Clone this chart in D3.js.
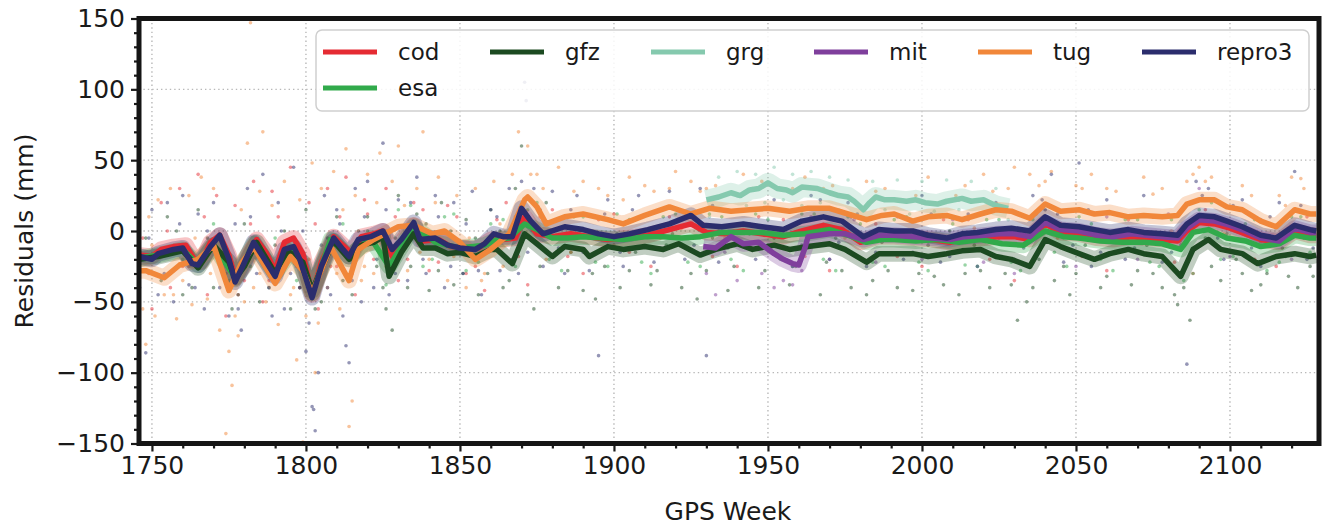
<!DOCTYPE html>
<html>
<head>
<meta charset="utf-8">
<script src="https://cdn.jsdelivr.net/npm/d3@7"></script>
<style>
  body { margin: 0; background: #fff; }
  svg text { font-family: "DejaVu Sans", sans-serif; fill: #1a1a1a; }
</style>
</head>
<body>
<svg id="chart" width="1326" height="528"></svg>
<script>
"use strict";

const width = 1326
const height = 528
const margin = { top: 18.5, right: 7, bottom: 84.5, left: 139 }

const centers = ["cod", "esa", "gfz", "grg", "mit", "tug", "repro3"]
const legendOrder = ["cod", "gfz", "grg", "mit", "tug", "repro3", "esa"]
const colors = new Map()
    .set("cod", "#e52b33")
    .set("esa", "#31aa4b")
    .set("gfz", "#1c4a21")
    .set("grg", "#85c9ae")
    .set("mit", "#7f3f9c")
    .set("tug", "#f1873a")
    .set("repro3", "#2b2d6d")

const xTicks = [1750, 1800, 1850, 1900, 1950, 2000, 2050, 2100]
const yTicks = [-150, -100, -50, 0, 50, 100, 150]

// smoothed residuals [GPS week, mm]
const codLine = [[1746,-17],[1750,-18],[1753,-13],[1757,-11],[1761,-10],[1764,-21],[1766,-22],[1769,-8],[1772,-3],[1775,-17],[1777,-33],[1780,-24],[1784,-6],[1787,-15],[1790,-28],[1793,-8],[1796,-5],[1799,-16],[1802,-45],[1805,-22],[1809,-4],[1812,-10],[1815,-16],[1818,-4],[1822,-2],[1825,0],[1828,-18],[1831,-8],[1835,4],[1838,-7],[1843,-6],[1847,-11],[1852,-12],[1856,-12],[1860,-6],[1864,-6],[1868,-5],[1871,10],[1875,-2],[1880,-4],[1886,-2],[1892,-4],[1898,-6],[1904,-5],[1911,-3],[1918,1],[1925,5],[1930,-1],[1936,-2],[1942,0],[1948,-2],[1955,-4],[1961,0],[1968,4],[1974,1],[1980,-8],[1986,-4],[1991,-4],[1997,-5],[2003,-6],[2009,-8],[2014,-6],[2020,-5],[2025,-4],[2030,-4],[2035,-6],[2040,5],[2045,-1],[2051,-2],[2057,-5],[2062,-6],[2068,-4],[2073,-5],[2078,-6],[2083,-7],[2086,0],[2090,6],[2095,5],[2100,2],[2105,-2],[2110,-6],[2116,-8],[2121,0],[2126,-3],[2128,-3]]
const esaLine = [[1746,-19],[1752,-17],[1760,-13],[1765,-24],[1770,-10],[1777,-33],[1783,-9],[1790,-30],[1796,-12],[1802,-44],[1808,-6],[1814,-18],[1821,-5],[1827,-25],[1835,3],[1842,-8],[1850,-12],[1858,-10],[1862,-6],[1866,-5],[1871,5],[1875,1],[1880,-5],[1885,-5],[1890,-4],[1896,-5],[1903,-6],[1910,-4],[1916,-4],[1922,-5],[1928,-4],[1935,-1],[1942,-1],[1948,-1],[1955,-3],[1962,-2],[1970,1],[1976,-3],[1982,-8],[1987,-6],[1991,-6],[1998,-7],[2005,-6],[2012,-8],[2019,-6],[2026,-9],[2033,-10],[2040,0],[2046,-4],[2051,-5],[2058,-7],[2065,-8],[2072,-8],[2078,-9],[2084,-13],[2088,-1],[2093,1],[2099,-5],[2105,-7],[2110,-11],[2116,-9],[2121,-3],[2126,-5],[2128,-5]]
const gfzLine = [[1746,-20],[1752,-18],[1760,-14],[1765,-26],[1770,-10],[1775,-22],[1777,-34],[1780,-25],[1784,-8],[1790,-30],[1794,-14],[1799,-22],[1802,-42],[1806,-22],[1809,-7],[1814,-20],[1818,-10],[1822,-8],[1825,-4],[1827,-32],[1831,-15],[1835,-2],[1838,-12],[1842,-12],[1846,-16],[1850,-15],[1855,-18],[1860,-13],[1862,-13],[1867,-23],[1871,-2],[1875,-9],[1880,-18],[1884,-11],[1890,-13],[1892,-18],[1898,-11],[1903,-13],[1910,-11],[1916,-13],[1921,-9],[1928,-17],[1933,-13],[1940,-9],[1945,-13],[1952,-10],[1957,-13],[1963,-11],[1970,-9],[1975,-13],[1982,-22],[1986,-16],[1991,-16],[1997,-16],[2002,-18],[2008,-16],[2013,-14],[2019,-13],[2024,-18],[2029,-20],[2035,-25],[2040,-6],[2045,-11],[2051,-16],[2056,-20],[2061,-16],[2067,-13],[2072,-16],[2078,-18],[2084,-32],[2088,-13],[2093,-6],[2097,-13],[2104,-16],[2109,-23],[2115,-18],[2121,-16],[2126,-18],[2128,-17]]
const grgLine = [[1930,22],[1934,24],[1938,27],[1941,25],[1944,29],[1947,30],[1950,34],[1953,30],[1956,29],[1958,27],[1961,31],[1966,30],[1970,27],[1973,25],[1976,24],[1978,21],[1981,15],[1983,20],[1985,24],[1988,22],[1991,22],[1995,21],[1998,22],[2001,20],[2005,19],[2008,21],[2013,23],[2016,21],[2020,22],[2022,20],[2024,18],[2028,16]]
const mitLine = [[1929,-11],[1933,-12],[1938,-4],[1942,-9],[1947,-8],[1952,-16],[1955,-20],[1958,-23],[1960,-24],[1962,-12],[1963,-4],[1970,-2],[1975,-2],[1981,-6],[1986,-3],[1991,-3],[1997,-4],[2003,-5],[2009,-6],[2014,-4],[2020,-3],[2025,-2],[2030,-2],[2035,-4],[2040,6],[2045,1],[2051,0],[2057,-3],[2062,-4],[2068,-2],[2073,-3],[2078,-4],[2083,-5],[2086,2],[2090,8],[2095,7],[2100,4],[2105,0],[2110,-5],[2116,-7],[2121,2],[2126,-1],[2128,-1]]
const tugLine = [[1746,-28],[1748,-28],[1754,-33],[1759,-24],[1765,-20],[1770,-10],[1775,-42],[1779,-23],[1783,-11],[1790,-37],[1795,-18],[1799,-28],[1802,-44],[1808,-11],[1814,-35],[1817,-13],[1822,-6],[1830,3],[1835,4],[1841,-2],[1845,0],[1850,-8],[1855,-20],[1860,-13],[1866,-2],[1871,22],[1872,24],[1875,17],[1878,5],[1884,10],[1890,12],[1898,8],[1903,5],[1910,11],[1918,17],[1925,12],[1931,16],[1938,14],[1944,15],[1950,16],[1957,14],[1963,16],[1970,16],[1976,12],[1982,8],[1987,11],[1991,12],[1997,7],[2002,10],[2008,11],[2013,8],[2019,12],[2024,15],[2029,14],[2035,9],[2040,19],[2045,14],[2051,15],[2056,12],[2061,13],[2067,10],[2072,11],[2078,10],[2083,11],[2086,19],[2090,22],[2095,22],[2099,17],[2104,15],[2110,7],[2115,3],[2121,15],[2126,12],[2128,12]]
const repro3Line = [[1746,-18],[1750,-20],[1752,-16],[1757,-13],[1760,-12],[1763,-23],[1765,-24],[1769,-11],[1772,-3],[1775,-20],[1777,-36],[1779,-27],[1783,-8],[1786,-18],[1790,-32],[1793,-13],[1796,-11],[1798,-20],[1802,-47],[1805,-25],[1809,-5],[1812,-13],[1814,-18],[1817,-6],[1821,-4],[1825,0],[1828,-13],[1831,-6],[1835,6],[1837,-6],[1842,-5],[1846,-10],[1850,-12],[1855,-13],[1858,-9],[1861,-2],[1864,-4],[1867,-4],[1870,16],[1873,7],[1877,-2],[1884,3],[1890,1],[1895,-2],[1900,-4],[1905,-2],[1911,1],[1918,5],[1925,11],[1929,4],[1935,3],[1942,5],[1948,3],[1955,1],[1961,7],[1968,10],[1974,7],[1981,-4],[1986,1],[1991,0],[1997,0],[2002,-3],[2008,-5],[2013,-2],[2018,-1],[2024,1],[2029,2],[2035,0],[2040,10],[2045,4],[2051,3],[2056,1],[2061,-1],[2067,1],[2072,-1],[2078,-2],[2083,-3],[2086,5],[2090,11],[2095,10],[2099,7],[2104,3],[2110,-3],[2115,-5],[2121,4],[2126,1],[2128,0]]

// individual daily residuals
const codDots = [[1747,-5],[1750,-55],[1753,20],[1756,-40],[1759,30],[1762,-25],[1765,40],[1768,-45],[1771,25],[1774,-60],[1777,18],[1780,-35],[1783,35],[1786,-50],[1789,28],[1792,-30],[1795,45],[1798,-40],[1801,20],[1804,-55],[1807,30],[1810,-25],[1813,38],[1816,-45],[1819,22],[1822,-20],[1826,30],[1830,-35],[1835,20],[1840,-28],[1846,18],[1852,-30],[1858,-42],[1865,20],[1872,-38],[1880,15],[1890,-30],[1900,12],[1912,-25],[1925,10],[1940,-25],[1955,8],[1970,-28],[1985,5],[2000,-25],[2015,8],[2030,-35],[2045,5],[2060,-28],[2075,10],[2088,-30],[2100,5],[2115,-25],[2125,10],
    [1749,-30],[1755,0],[1760,-25],[1767,10],[1773,-20],[1778,-45],[1782,5],[1788,-35],[1791,10],[1797,-25],[1800,-35],[1803,5],[1808,-25],[1811,10],[1815,-30],[1820,12],[1824,-15],[1829,10],[1833,-20],[1838,15],[1843,-22],[1849,10],[1855,-25],[1862,8],[1869,-18],[1876,10],[1885,-18],[1895,8],[1905,-15],[1918,10],[1932,-18],[1947,10],[1962,-18],[1977,10],[1992,-18],[2007,8],[2022,-20],[2037,12],[2052,-18],[2067,8],[2082,-22],[2092,15],[2108,-20],[2120,12]]
const esaDots = [[1760,-20],[1775,-35],[1790,-5],[1805,-30],[1820,0],[1830,15],[1838,-25],[1845,10],[1852,-28],[1860,5],[1868,-25],[1875,20],[1883,-28],[1890,10],[1898,-25],[1905,8],[1912,-30],[1920,12],[1928,-25],[1935,10],[1942,-28],[1950,8],[1958,-25],[1965,12],[1972,-28],[1980,5],[1988,-25],[1995,10],[2002,-28],[2010,5],[2018,-25],[2025,8],[2032,-28],[2040,15],[2047,-25],[2055,5],[2062,-28],[2070,8],[2077,-25],[2085,-35],[2090,15],[2097,-20],[2105,5],[2112,-28],[2120,10],[2126,-15],
    [1770,5],[1782,-25],[1797,-35],[1812,5],[1826,-38],[1834,18],[1841,-20],[1848,12],[1856,-22],[1864,8],[1872,15],[1879,-20],[1887,10],[1894,-22],[1901,12],[1909,-22],[1916,10],[1924,-22],[1931,12],[1938,-20],[1946,12],[1954,-20],[1961,12],[1968,-20],[1976,10],[1984,-22],[1991,8],[1999,-22],[2006,10],[2014,-24],[2021,8],[2029,-22],[2036,8],[2043,-15],[2051,10],[2058,-20],[2066,8],[2074,-22],[2081,8],[2088,-30],[2094,20],[2101,-18],[2108,8],[2116,-22],[2123,10]]
const gfzDots = [[1750,-30],[1755,10],[1760,-45],[1765,15],[1770,-40],[1776,-55],[1780,5],[1785,-50],[1790,-10],[1795,-55],[1800,15],[1805,-50],[1810,10],[1815,-45],[1820,10],[1826,-55],[1828,-70],[1830,25],[1833,-40],[1836,12],[1840,-42],[1844,20],[1848,-38],[1852,8],[1856,-45],[1860,15],[1864,-40],[1868,30],[1870,60],[1872,-45],[1874,-55],[1878,20],[1882,-40],[1886,-15],[1890,-42],[1894,-48],[1898,-5],[1902,-40],[1907,-15],[1912,-38],[1917,-10],[1922,-40],[1927,-48],[1932,-5],[1937,-42],[1942,-10],[1947,-40],[1952,-5],[1957,-38],[1962,-12],[1967,-45],[1972,-5],[1977,-40],[1982,-45],[1987,-8],[1992,-40],[1997,-42],[2002,-10],[2007,-38],[2012,-45],[2017,-10],[2022,-40],[2027,-30],[2031,-63],[2034,-50],[2038,-20],[2043,-35],[2048,-45],[2053,-10],[2058,-40],[2063,-15],[2068,-38],[2073,-10],[2078,-40],[2083,-52],[2085,-40],[2087,-63],[2092,-5],[2097,-35],[2102,-20],[2107,-42],[2112,-30],[2117,-12],[2122,-40],[2126,-25],
    [1748,-5],[1753,-35],[1758,0],[1763,-40],[1768,-5],[1773,-20],[1778,-45],[1783,-15],[1788,-40],[1793,0],[1798,-40],[1803,-55],[1807,-5],[1812,-35],[1817,0],[1823,-25],[1825,-40],[1829,-5],[1834,-25],[1839,5],[1843,-28],[1847,0],[1851,-30],[1855,-5],[1859,-30],[1863,0],[1866,-35],[1871,10],[1876,-25],[1880,-5],[1885,-28],[1889,0],[1893,-30],[1897,-25],[1901,-2],[1905,-28],[1910,0],[1914,-28],[1919,-2],[1925,-30],[1930,-28],[1934,0],[1939,-25],[1944,-2],[1949,-28],[1954,0],[1959,-25],[1965,-2],[1969,-22],[1974,-28],[1979,-2],[1984,-35],[1989,-28],[1994,-2],[1999,-30],[2004,-32],[2009,0],[2014,-30],[2019,-28],[2025,-5],[2029,-38],[2033,-5],[2036,-40],[2041,5],[2046,-25],[2050,-30],[2055,-5],[2060,-32],[2065,-2],[2070,-28],[2075,-30],[2080,-5],[2082,-45],[2089,0],[2094,-25],[2099,-2],[2104,-30],[2110,-38],[2114,-5],[2119,-32],[2124,-5],[2127,-32]]
const grgDots = [[1931,10],[1934,38],[1937,15],[1940,42],[1943,18],[1946,40],[1949,20],[1952,45],[1955,22],[1958,40],[1961,18],[1964,42],[1967,20],[1970,38],[1973,15],[1976,36],[1980,10],[1984,35],[1988,15],[1992,36],[1996,12],[2000,35],[2004,14],[2008,36],[2012,15],[2016,35],[2020,12],[2024,30],[2028,8]]
const mitDots = [[1930,-30],[1933,-45],[1936,-15],[1940,-35],[1944,5],[1948,-30],[1952,-40],[1955,-35],[1958,-38],[1961,-28],[1964,10],[1970,-20],[1978,8],[1985,-22],[1992,10],[2000,-20],[2010,8],[2020,-22],[2030,-30],[2040,15],[2050,-25],[2060,10],[2070,-20],[2080,12],[2090,30],[2100,-18],[2110,8],[2120,-20]]
const tugDots = [[1747,-55],[1748,-80],[1749,10],[1751,-60],[1752,22],[1754,-45],[1756,30],[1758,-62],[1760,-35],[1762,25],[1763,-52],[1766,38],[1768,-48],[1770,30],[1772,-70],[1774,-143],[1775,-85],[1776,-109],[1777,-60],[1778,-74],[1779,15],[1781,62],[1782,147],[1783,-40],[1785,28],[1786,70],[1787,-50],[1789,18],[1791,-66],[1793,35],[1795,-45],[1797,-91],[1798,22],[1799,-149],[1800,-60],[1802,48],[1803,-100],[1805,30],[1807,-40],[1809,42],[1811,-55],[1813,58],[1814,-138],[1815,-120],[1816,25],[1818,-35],[1820,40],[1822,-30],[1824,55],[1826,-25],[1828,35],[1830,60],[1833,-28],[1836,30],[1838,70],[1840,-20],[1843,38],[1846,-35],[1849,25],[1852,-40],[1855,30],[1858,-30],[1861,35],[1864,-25],[1867,40],[1869,70],[1872,60],[1875,40],[1878,-20],[1882,45],[1886,-15],[1890,35],[1895,30],[1900,-10],[1905,38],[1910,32],[1915,-5],[1920,42],[1925,35],[1930,30],[1936,-5],[1942,40],[1948,35],[1955,-2],[1962,38],[1968,30],[1975,-5],[1982,35],[1988,30],[1995,-3],[2002,38],[2008,-5],[2014,32],[2020,40],[2026,0],[2030,45],[2035,40],[2040,35],[2044,-5],[2050,32],[2055,40],[2060,30],[2066,-3],[2072,38],[2078,30],[2084,-8],[2088,40],[2092,35],[2098,-2],[2104,32],[2110,-8],[2116,25],[2120,38],[2123,37],[2126,-5],
    [1750,-10],[1757,-45],[1764,-5],[1769,-30],[1774,-20],[1780,-50],[1785,-30],[1792,-15],[1796,-40],[1801,-20],[1804,-65],[1810,-30],[1812,15],[1819,-25],[1823,20],[1827,-10],[1832,18],[1837,-15],[1842,20],[1848,-18],[1853,-5],[1857,-35],[1863,5],[1868,10],[1873,40],[1877,30],[1881,-5],[1887,28],[1893,0],[1898,25],[1903,22],[1908,-2],[1913,28],[1918,30],[1922,2],[1928,28],[1933,32],[1939,0],[1945,30],[1951,2],[1958,30],[1965,0],[1971,32],[1978,-2],[1985,28],[1991,0],[1998,25],[2005,-5],[2011,25],[2017,2],[2023,28],[2028,30],[2033,0],[2038,32],[2042,42],[2047,2],[2052,30],[2058,0],[2063,28],[2069,-2],[2075,26],[2081,0],[2086,35],[2090,45],[2094,38],[2101,5],[2107,25],[2113,-5],[2118,18],[2124,30]]
const repro3Dots = [[1746,-40],[1748,-86],[1750,15],[1752,-45],[1755,20],[1757,-50],[1760,25],[1762,-38],[1765,12],[1767,-55],[1770,20],[1772,-40],[1775,-60],[1777,5],[1779,-70],[1781,30],[1784,-30],[1786,40],[1789,-60],[1791,20],[1793,-55],[1796,45],[1798,-40],[1800,-85],[1802,-124],[1802.5,-126],[1803,-141],[1804,-100],[1806,25],[1808,-45],[1810,15],[1812,-60],[1813,-81],[1814,-93],[1816,30],[1818,-50],[1820,35],[1822,-40],[1825,62],[1827,-45],[1830,22],[1833,-35],[1836,38],[1839,-30],[1842,25],[1845,-40],[1848,20],[1851,-30],[1854,28],[1857,-45],[1860,15],[1863,-28],[1866,30],[1869,-30],[1871,105],[1871.5,92],[1874,30],[1877,-25],[1880,28],[1884,-30],[1888,25],[1892,-28],[1895,-88],[1898,22],[1903,-25],[1908,25],[1913,-22],[1918,28],[1923,-20],[1928,30],[1930,-88],[1934,-22],[1940,25],[1946,-20],[1952,22],[1958,-25],[1964,25],[1970,-20],[1976,20],[1982,-25],[1988,22],[1994,-20],[2000,25],[2006,-22],[2012,22],[2018,-25],[2024,20],[2030,-20],[2036,25],[2042,40],[2046,-22],[2051,48],[2055,-25],[2060,22],[2066,-20],[2072,25],[2078,-22],[2086,-94],[2089,35],[2093,30],[2098,-20],[2104,22],[2110,-25],[2116,20],[2121,42],[2125,-20],
    [1749,-5],[1754,-30],[1759,5],[1764,-40],[1768,0],[1774,-30],[1778,-55],[1782,10],[1788,-40],[1792,0],[1795,-30],[1799,0],[1801,-65],[1805,-10],[1807,-40],[1811,5],[1815,-35],[1819,10],[1823,-20],[1826,15],[1829,-30],[1834,20],[1838,-20],[1843,10],[1847,-25],[1852,5],[1856,-28],[1862,10],[1867,-20],[1870,35],[1872,-15],[1876,15],[1882,-12],[1886,15],[1890,-15],[1897,12],[1902,-15],[1906,15],[1915,-12],[1921,15],[1926,-10],[1932,18],[1937,-12],[1943,15],[1949,-12],[1955,15],[1961,-10],[1967,22],[1973,-8],[1979,12],[1985,-15],[1991,12],[1997,-15],[2003,12],[2009,-18],[2015,12],[2021,-15],[2027,15],[2033,-12],[2039,22],[2044,12],[2049,-10],[2054,15],[2058,-15],[2063,12],[2069,-12],[2075,10],[2081,-15],[2084,-10],[2091,25],[2096,-5],[2101,18],[2107,-12],[2113,10],[2118,-18],[2123,18],[2127,-12]]

const lines = new Map()
    .set("cod", codLine).set("esa", esaLine).set("gfz", gfzLine).set("grg", grgLine)
    .set("mit", mitLine).set("tug", tugLine).set("repro3", repro3Line)
const dots = new Map()
    .set("cod", codDots).set("esa", esaDots).set("gfz", gfzDots).set("grg", grgDots)
    .set("mit", mitDots).set("tug", tugDots).set("repro3", repro3Dots)

const svg = d3.select("#chart")

const x = d3.scaleLinear()
    .domain([1745.8, 2128.9])
    .range([margin.left, width - margin.right])
const y = d3.scaleLinear()
    .domain([-150, 150])
    .range([height - margin.bottom, margin.top])

// grid
const grid = svg.append("g")
    .attr("stroke", "#b8b8b8")
    .attr("stroke-width", 1.4)
    .attr("stroke-dasharray", "1.4,3")
grid.selectAll("line.gx")
    .data(xTicks)
    .join("line")
    .attr("x1", d => x(d)).attr("x2", d => x(d))
    .attr("y1", margin.top).attr("y2", height - margin.bottom)
grid.selectAll("line.gy")
    .data(yTicks.filter(d => d > -150 && d < 150))
    .join("line")
    .attr("class", "gy")
    .attr("x1", margin.left).attr("x2", width - margin.right)
    .attr("y1", d => y(d)).attr("y2", d => y(d))

const plot = svg.append("g")

// scatter first, then the smoothed curves on top
centers.forEach(c => {
    plot.append("g")
        .attr("fill", colors.get(c))
        .attr("fill-opacity", 0.5)
        .selectAll("circle")
        .data(dots.get(c))
        .join("circle")
        .attr("cx", d => x(d[0]))
        .attr("cy", d => y(d[1]))
        .attr("r", 1.8)
})

const line = d3.line()
    .x(d => x(d[0]))
    .y(d => y(d[1]))
    .curve(d3.curveLinear)

// dense cloud of daily points around each curve
centers.forEach(c => {
    plot.append("path")
        .datum(lines.get(c))
        .attr("fill", "none")
        .attr("stroke", colors.get(c))
        .attr("stroke-opacity", 0.28)
        .attr("stroke-width", c == "grg" ? 20 : 16)
        .attr("stroke-linejoin", "round")
        .attr("d", line)
})

centers.forEach(c => {
    plot.append("path")
        .datum(lines.get(c))
        .attr("fill", "none")
        .attr("stroke", colors.get(c))
        .attr("stroke-width", 5.5)
        .attr("stroke-linejoin", "round")
        .attr("d", line)
})

// axes
const xAxis = svg.append("g")
    .attr("transform", `translate(0,${height - margin.bottom})`)
    .call(d3.axisBottom(x).tickValues(xTicks).tickFormat(d3.format("d")).tickSize(8).tickPadding(5))
const xMinor = svg.append("g")
    .attr("transform", `translate(0,${height - margin.bottom})`)
    .call(d3.axisBottom(x).tickValues(d3.range(1750, 2129, 10).filter(d => d % 50 != 0)).tickSize(5).tickFormat(""))
const yAxis = svg.append("g")
    .attr("transform", `translate(${margin.left},0)`)
    .call(d3.axisLeft(y).tickValues(yTicks).tickFormat(d => d < 0 ? "\u2212" + Math.abs(d) : d).tickSize(8).tickPadding(6))
const yMinor = svg.append("g")
    .attr("transform", `translate(${margin.left},0)`)
    .call(d3.axisLeft(y).tickValues(d3.range(-140, 150, 10).filter(d => d % 50 != 0)).tickSize(5).tickFormat(""))

;[xAxis, xMinor, yAxis, yMinor].forEach(a => {
    a.select(".domain").remove()
    a.selectAll("line").attr("stroke", "#1a1a1a").attr("stroke-width", 2.2)
    a.selectAll("text").attr("font-size", 25).attr("font-family", "DejaVu Sans").attr("fill", "#1a1a1a")
})

// frame
svg.append("rect")
    .attr("x", margin.left)
    .attr("y", margin.top)
    .attr("width", width - margin.left - margin.right)
    .attr("height", height - margin.top - margin.bottom)
    .attr("fill", "none")
    .attr("stroke", "#151515")
    .attr("stroke-width", 5)

// axis titles
svg.append("text")
    .attr("x", x(1937))
    .attr("y", 520)
    .attr("text-anchor", "middle")
    .attr("font-size", 25)
    .text("GPS Week")
svg.append("text")
    .attr("transform", `translate(24,${y(0)}) rotate(-90)`)
    .attr("text-anchor", "middle")
    .attr("dy", "0.35em")
    .attr("font-size", 25)
    .text("Residuals (mm)")

// legend
const legend = svg.append("g")
legend.append("rect")
    .attr("x", 316).attr("y", 30)
    .attr("width", 993).attr("height", 81)
    .attr("rx", 6)
    .attr("fill", "#fff").attr("fill-opacity", 0.85)
    .attr("stroke", "#cfcfcf").attr("stroke-width", 1.5)
const colX = [323, 490, 651, 814, 978, 1142]
legendOrder.forEach((c, i) => {
    const lx = colX[i % 6]
    const ly = i < 6 ? 52 : 88
    legend.append("line")
        .attr("x1", lx).attr("x2", lx + 54)
        .attr("y1", ly).attr("y2", ly)
        .attr("stroke", colors.get(c))
        .attr("stroke-width", 5)
    legend.append("text")
        .attr("x", lx + 75)
        .attr("y", ly)
        .attr("dy", "0.35em")
        .attr("font-size", 23)
        .text(c)
})
</script>
</body>
</html>
